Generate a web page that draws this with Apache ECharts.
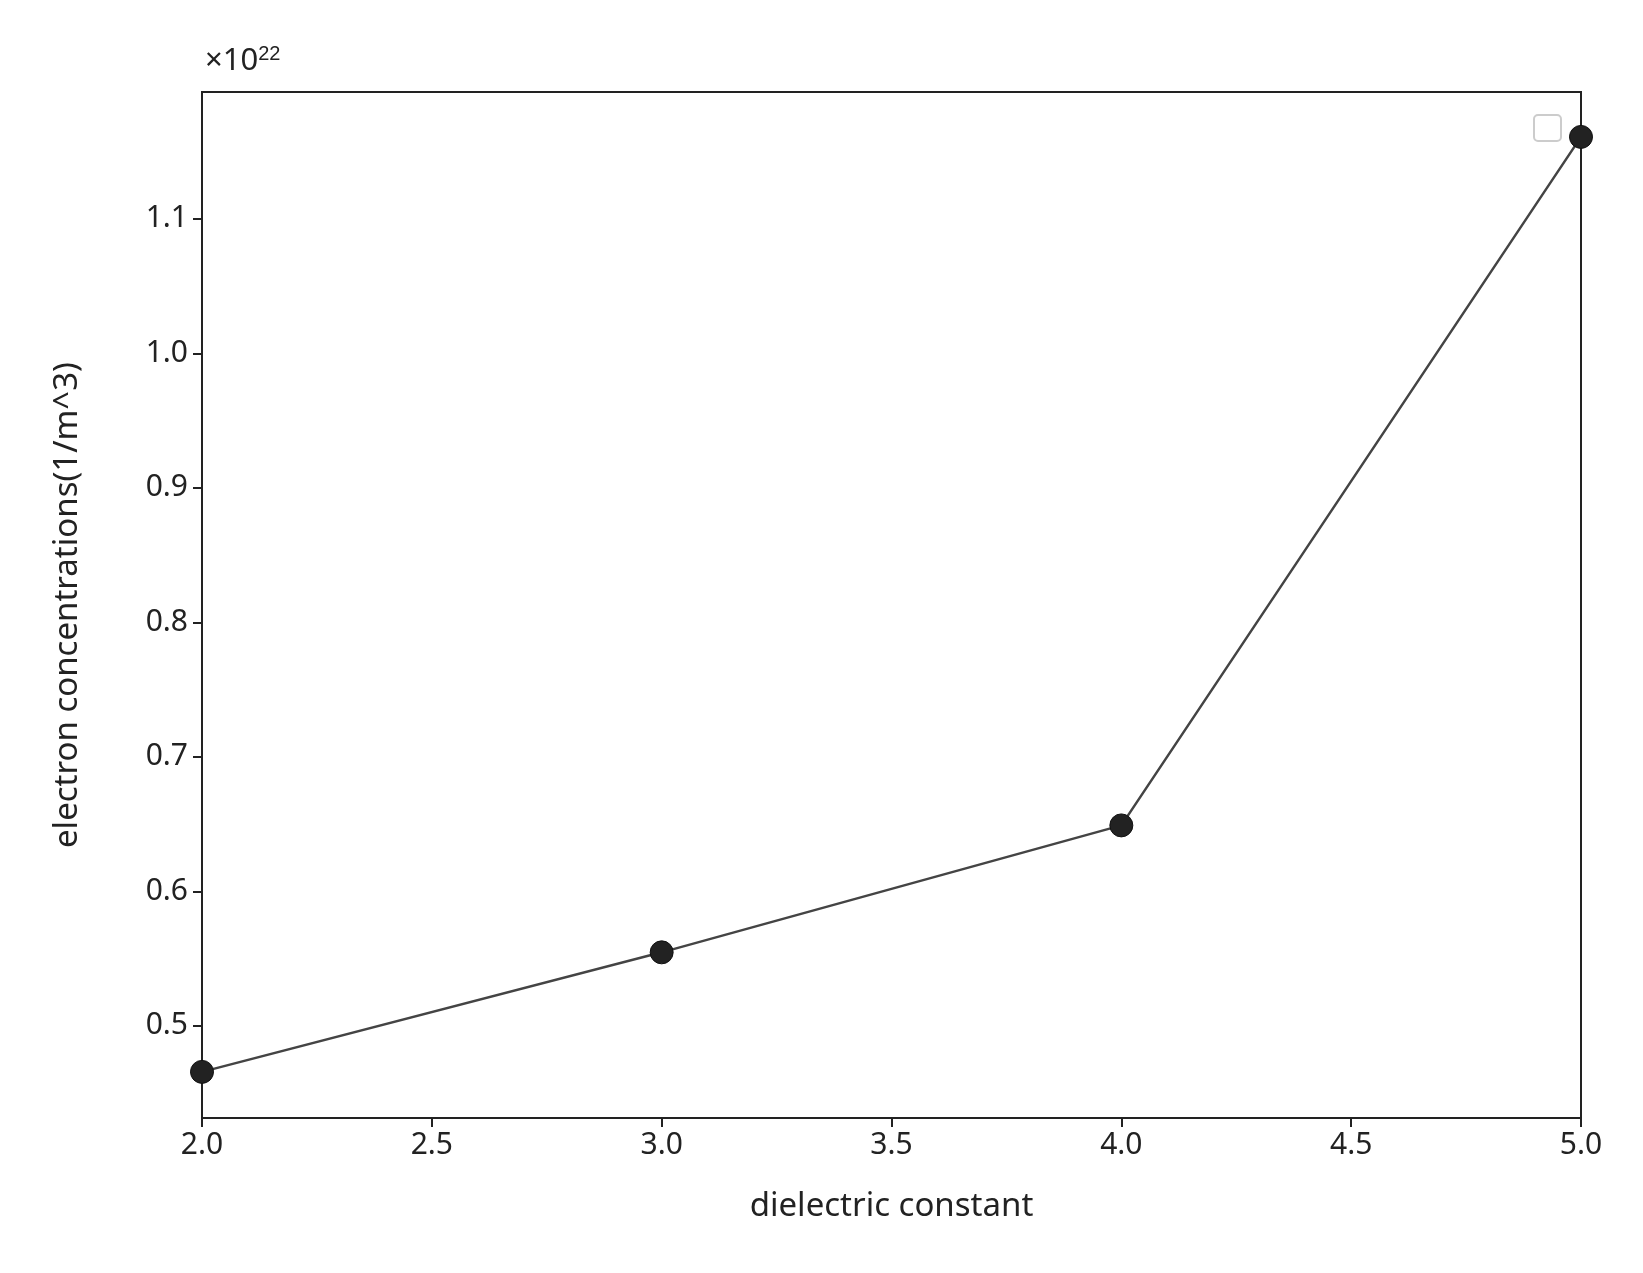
<!DOCTYPE html>
<html><head><meta charset="utf-8">
<script src="https://cdn.jsdelivr.net/npm/echarts@6/dist/echarts.min.js"></script>
<style>html,body{margin:0;background:#fff}#c{width:1643px;height:1273px}</style>
</head><body><div id="c"></div>
<script>
const xValues = [2.0, 3.0, 4.0, 5.0];
const yValues = [0.4657, 0.5546, 0.649, 1.161]; // ×10^22
const yTicks = [0.5, 0.6, 0.7, 0.8, 0.9, 1.0, 1.1];
const chart = echarts.init(document.getElementById('c'));
const font = 'Noto Sans';
chart.setOption({
  animation: false,
  grid: {left: 202, top: 92, right: 62, bottom: 155},
  xAxis: {
    type: 'value', min: 2, max: 5, interval: 0.5,
    name: 'dielectric constant', nameLocation: 'middle', nameGap: 72,
    nameTextStyle: {fontSize: 33, color: '#222', fontFamily: font},
    axisLine: {show: true, onZero: false, lineStyle: {color: '#222', width: 2}},
    axisTick: {show: true, length: 9, lineStyle: {color: '#222', width: 2}},
    axisLabel: {fontSize: 30, color: '#222', fontFamily: font, margin: 12, formatter: v => v.toFixed(1)},
    splitLine: {show: false}
  },
  yAxis: {
    type: 'value', min: 0.4314, max: 1.1944,
    name: 'electron concentrations(1/m^3)', nameLocation: 'middle', nameGap: 118,
    nameTextStyle: {fontSize: 33, color: '#222', fontFamily: font},
    axisLine: {show: true, onZero: false, lineStyle: {color: '#222', width: 2}},
    axisTick: {show: true, length: 9, customValues: yTicks, lineStyle: {color: '#222', width: 2}},
    axisLabel: {fontSize: 30, color: '#222', fontFamily: font, margin: 14, customValues: yTicks, formatter: v => v.toFixed(1)},
    splitLine: {show: false}
  },
  graphic: [
    {type: 'rect', shape: {x: 202, y: 92, width: 1379, height: 1026}, style: {fill: 'none', stroke: '#222', lineWidth: 2}, silent: true},
    {type: 'rect', shape: {x: 1534, y: 115, width: 27, height: 26, r: 4}, style: {fill: '#fff', stroke: '#ccc', lineWidth: 2}},
    {type: 'text', left: 205, top: 44, style: {text: '×10{s|22}', font: '31px Noto Sans', fill: '#222', rich: {s: {fontSize: 20, verticalAlign: 'top', fill: '#222', padding: [0,0,14,0]}}}}
  ],
  series: [{
    type: 'line', data: xValues.map((x, i) => [x, yValues[i]]),
    symbol: 'circle', symbolSize: 23, clip: false,
    lineStyle: {color: '#444', width: 2.5},
    itemStyle: {color: '#222', borderColor: '#111', borderWidth: 1}
  }]
});
</script></body></html>
